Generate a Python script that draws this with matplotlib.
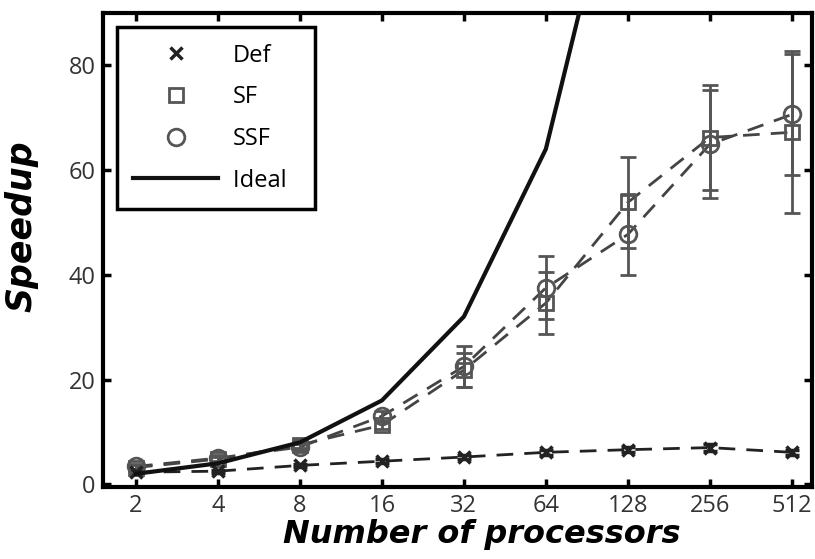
import numpy as np
import matplotlib.pyplot as plt
from matplotlib.lines import Line2D

# data
procs = [2, 4, 8, 16, 32, 64, 128, 256, 512]
ideal = [2, 4, 8, 16, 32, 64, 128, 256, 512]

def_speedup = [2.3, 2.5, 3.6, 4.4, 5.2, 6.1, 6.6, 7.0, 6.1]
def_err = [0.3, 0.3, 0.3, 0.4, 0.4, 0.5, 0.5, 0.6, 0.5]

sf_speedup = [3.2, 4.8, 7.5, 11.3, 21.8, 34.6, 53.8, 66.2, 67.2]
sf_err = [0.4, 0.5, 0.6, 0.8, 3.3, 6.0, 8.6, 10.0, 15.5]

ssf_speedup = [3.4, 5.0, 7.1, 13.0, 22.5, 37.5, 47.7, 64.9, 70.6]
ssf_err = [0.4, 0.5, 0.6, 0.9, 3.9, 6.0, 7.7, 10.3, 11.5]

gray = '#555555'
dark = '#333333'

fig = plt.figure(figsize=(8.15, 5.59), dpi=100)
ax = fig.add_axes([0.126, 0.129, 0.87, 0.848])

ax.plot(procs, ideal, '-', color='#111111', lw=3, zorder=4)

ax.errorbar(procs, sf_speedup, yerr=sf_err, fmt='s', ms=10, mfc='none', mec=gray,
            mew=2, ecolor=gray, elinewidth=2, capsize=6, capthick=2, zorder=3)
ax.errorbar(procs, ssf_speedup, yerr=ssf_err, fmt='o', ms=12, mfc='none', mec=gray,
            mew=2, ecolor=gray, elinewidth=2, capsize=6, capthick=2, zorder=3)
ax.plot(procs, sf_speedup, '--', color='#444444', lw=2, dashes=(6, 4), zorder=2)
ax.plot(procs, ssf_speedup, '--', color='#444444', lw=2, dashes=(6, 4), zorder=2)

ax.errorbar(procs, def_speedup, yerr=def_err, fmt='x', ms=8, mec='#222222', mew=2.5,
            ecolor='#222222', elinewidth=2, capsize=5, capthick=2, zorder=3)
ax.plot(procs, def_speedup, '--', color='#222222', lw=2, dashes=(6, 4), zorder=2)

ax.set_xscale('log', base=2)
ax.set_xlim(1.51, 606)
ax.set_ylim(-0.5, 90)
ax.set_xticks(procs)
ax.set_xticklabels([str(p) for p in procs])
ax.minorticks_off()
ax.set_yticks([0, 20, 40, 60, 80])

for s in ax.spines.values():
    s.set_linewidth(3)
ax.tick_params(direction='in', length=6, width=2.5, top=True, right=True,
               labelsize=17, labelcolor=dark, pad=5)
for lab in ax.get_xticklabels() + ax.get_yticklabels():
    lab.set_family('Open Sans')

ax.set_xlabel('Number of processors', fontsize=23, fontweight='bold', style='italic')
ax.set_ylabel('Speedup', fontsize=25, fontweight='bold', style='italic')
ax.xaxis.set_label_coords(0.535, -0.068)
ax.yaxis.set_label_coords(-0.09, 0.55)

handles = [
    Line2D([], [], ls='none', marker='x', ms=8, mec='#222222', mew=2.5),
    Line2D([], [], ls='none', marker='s', ms=10, mfc='none', mec=gray, mew=2),
    Line2D([], [], ls='none', marker='o', ms=12, mfc='none', mec=gray, mew=2),
    Line2D([], [], color='#111111', lw=3),
]
leg = ax.legend(handles, ['Def', 'SF', 'SSF', 'Ideal  '], loc='upper left',
                bbox_to_anchor=(0.02, 0.97), borderaxespad=0, fancybox=False,
                edgecolor='black', framealpha=1,
                prop={'family': 'Open Sans', 'size': 17},
                handlelength=3.6, labelspacing=0.75, borderpad=0.7, handletextpad=0.6)
leg.get_frame().set_linewidth(2.5)

fig.savefig('out.png', dpi=100)
